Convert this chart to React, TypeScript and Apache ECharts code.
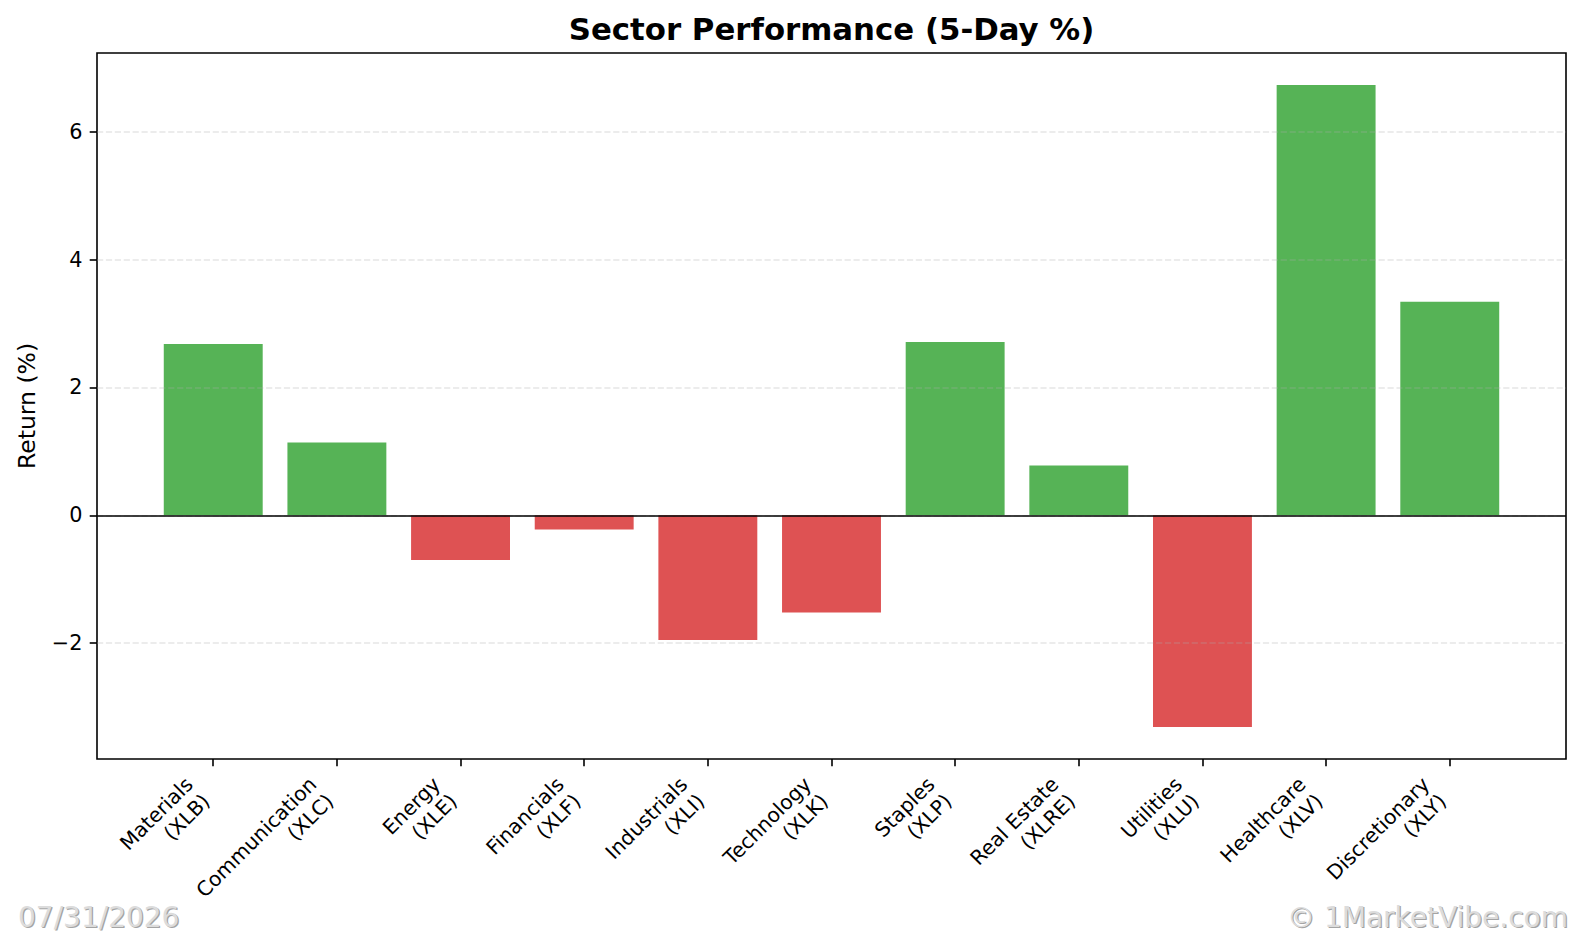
import React, { useEffect, useRef } from "react";
import * as echarts from "echarts";

// ---- data ----
const categories: string[] = [
  "Materials\n(XLB)",
  "Communication\n(XLC)",
  "Energy\n(XLE)",
  "Financials\n(XLF)",
  "Industrials\n(XLI)",
  "Technology\n(XLK)",
  "Staples\n(XLP)",
  "Real Estate\n(XLRE)",
  "Utilities\n(XLU)",
  "Healthcare\n(XLV)",
  "Discretionary\n(XLY)",
];
const returns: number[] = [2.68, 1.14, -0.7, -0.22, -1.95, -1.52, 2.71, 0.78, -3.31, 6.73, 3.34];
const yTicks: number[] = [-2, 0, 2, 4, 6];
const titleText = "Sector Performance (5-Day %)";
const yLabelText = "Return (%)";
const dateText = "07/31/2026";
const copyrightText = "\u00a9 1MarketVibe.com";

// ---- layout / style ----
const W = 1582;
const H = 937;
const FONT = "DejaVu Sans";
const GREEN = "#56b356";
const RED = "#de5253";
const GL = 97;
const GT = 53;
const GW = 1469;
const GH = 706;
const LW = 1.6;

// axis limits like matplotlib's 5% margins
const positions = categories.map((_, i) => i);
const BAR_W_UNITS = 0.8;
const xLo = -BAR_W_UNITS / 2;
const xHi = positions.length - 1 + BAR_W_UNITS / 2;
const xPad = (xHi - xLo) * 0.05;
const xMin = xLo - xPad;
const xMax = xHi + xPad;
const dMin = Math.min(0, ...returns);
const dMax = Math.max(0, ...returns);
const yPad = (dMax - dMin) * 0.05;
const yMin = dMin - yPad;
const yMax = dMax + yPad;
const barWidthPx = (BAR_W_UNITS * GW) / (xMax - xMin);

export default function App() {
  const ref = useRef<HTMLDivElement>(null);
  useEffect(() => {
    if (!ref.current) return;
    const chart = echarts.init(ref.current, undefined, { renderer: "svg", width: W, height: H });
    const option: any = {
      animation: false,
      backgroundColor: "#ffffff",
      textStyle: { fontFamily: FONT },
      grid: {
        left: GL,
        top: GT,
        width: GW,
        height: GH,
        show: true,
        borderColor: "#000",
        borderWidth: LW,
        backgroundColor: "transparent",
        containLabel: false,
        outerBoundsMode: "none",
      },
      xAxis: {
        type: "value",
        position: "bottom",
        min: xMin,
        max: xMax,
        axisLine: { show: false, onZero: false },
        splitLine: { show: false },
        axisTick: {
          show: true,
          customValues: positions,
          length: 7.3,
          lineStyle: { color: "#000", width: LW },
        },
        axisLabel: {
          customValues: positions,
          rotate: 45,
          formatter: (v: number) => categories[Math.round(v)] ?? "",
          fontSize: 20.3,
          lineHeight: 24,
          color: "#000",
          fontFamily: FONT,
          margin: 14.7,
          padding: [0, 22, 0, 0],
        },
      },
      yAxis: {
        type: "value",
        position: "left",
        min: yMin,
        max: yMax,
        axisLine: { show: false, onZero: false },
        splitLine: { show: false },
        axisTick: {
          show: true,
          customValues: yTicks,
          length: 7.3,
          lineStyle: { color: "#000", width: LW },
        },
        axisLabel: {
          customValues: yTicks,
          formatter: (v: number) => String(v).replace("-", "\u2212"),
          fontSize: 20.8,
          color: "#000",
          fontFamily: FONT,
          margin: 14.6,
        },
      },
      series: [
        {
          type: "bar",
          barWidth: barWidthPx,
          data: returns.map((v, i) => ({
            value: [positions[i], v],
            itemStyle: { color: v >= 0 ? GREEN : RED },
          })),
          markLine: {
            silent: true,
            symbol: ["none", "none"],
            label: { show: false },
            data: [
              ...yTicks.map((t) => ({
                yAxis: t,
                lineStyle: { color: "rgba(176,176,176,0.3)", type: [6.2, 2.7], width: 1.67 },
              })),
              { yAxis: 0, lineStyle: { color: "#000", type: "solid", width: LW } },
            ],
          },
        },
      ],
      graphic: [
        {
          type: "text",
          x: GL + GW / 2,
          y: 29,
          style: {
            text: titleText,
            fontSize: 30.8,
            fontWeight: "bold",
            fontFamily: FONT,
            fill: "#000",
            align: "center",
            verticalAlign: "middle",
          },
        },
        {
          type: "text",
          x: 27,
          y: GT + GH / 2,
          rotation: Math.PI / 2,
          style: {
            text: yLabelText,
            fontSize: 23.5,
            fontFamily: FONT,
            fill: "#000",
            align: "center",
            verticalAlign: "middle",
          },
        },
        {
          type: "text",
          x: 19.3,
          y: 918.3,
          style: { text: dateText, fontSize: 28, fontFamily: FONT, fill: "#a4a4a4", align: "left", verticalAlign: "middle" },
        },
        {
          type: "text",
          x: 18,
          y: 917,
          style: { text: dateText, fontSize: 28, fontFamily: FONT, fill: "#dcdcdc", align: "left", verticalAlign: "middle" },
        },
        {
          type: "text",
          x: 1569.3,
          y: 918.3,
          style: { text: copyrightText, fontSize: 28, fontFamily: FONT, fill: "#a4a4a4", align: "right", verticalAlign: "middle" },
        },
        {
          type: "text",
          x: 1568,
          y: 917,
          style: { text: copyrightText, fontSize: 28, fontFamily: FONT, fill: "#dcdcdc", align: "right", verticalAlign: "middle" },
        },
      ],
    };
    chart.setOption(option);
    return () => {
      chart.dispose();
    };
  }, []);
  return (
    <div
      ref={ref}
      style={{ position: "fixed", left: 0, top: 0, width: W, height: H, background: "#fff" }}
    />
  );
}
